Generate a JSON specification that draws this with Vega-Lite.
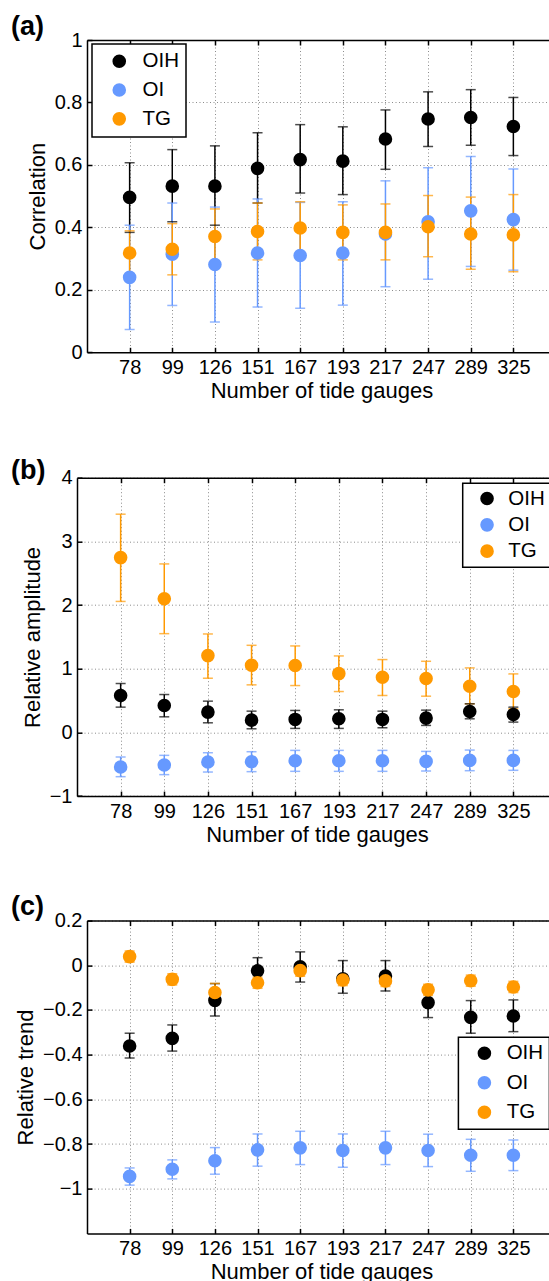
{
  "$schema": "https://vega.github.io/schema/vega-lite/v6.json",
  "padding": {"left": 11, "top": 13, "right": 0, "bottom": 0},
  "background": "white",
  "config": {
    "font": "Liberation Sans",
    "view": {"stroke": null},
    "axis": {
      "labelFont": "Liberation Sans", "titleFont": "Liberation Sans",
      "labelFontSize": 20, "titleFontSize": 22, "titleFontWeight": "normal",
      "labelColor": "black", "titleColor": "black",
      "domainColor": "black", "domainWidth": 1.5,
      "tickColor": "black", "tickWidth": 1.5, "tickSize": -5,
      "gridColor": "#8c8c8c", "gridDash": [1, 2.5], "gridWidth": 1,
      "labelFlush": false, "labelOverlap": false
    },
    "legend": {"strokeWidth": 1.5},
    "title": {"font": "Liberation Sans", "fontSize": 27, "fontWeight": "bold", "color": "black", "anchor": "start", "frame": "group", "baseline": "alphabetic"}
  },
  "datasets": {
    "a": [
      {"n": 78, "s": "OIH", "v": 0.496, "lo": 0.384, "hi": 0.607},
      {"n": 99, "s": "OIH", "v": 0.532, "lo": 0.418, "hi": 0.649},
      {"n": 126, "s": "OIH", "v": 0.532, "lo": 0.407, "hi": 0.661},
      {"n": 151, "s": "OIH", "v": 0.589, "lo": 0.478, "hi": 0.703},
      {"n": 167, "s": "OIH", "v": 0.617, "lo": 0.510, "hi": 0.729},
      {"n": 193, "s": "OIH", "v": 0.612, "lo": 0.505, "hi": 0.722},
      {"n": 217, "s": "OIH", "v": 0.683, "lo": 0.586, "hi": 0.776},
      {"n": 247, "s": "OIH", "v": 0.747, "lo": 0.659, "hi": 0.834},
      {"n": 289, "s": "OIH", "v": 0.752, "lo": 0.663, "hi": 0.841},
      {"n": 325, "s": "OIH", "v": 0.723, "lo": 0.630, "hi": 0.816},
      {"n": 78, "s": "OI", "v": 0.240, "lo": 0.073, "hi": 0.407},
      {"n": 99, "s": "OI", "v": 0.314, "lo": 0.150, "hi": 0.478},
      {"n": 126, "s": "OI", "v": 0.281, "lo": 0.097, "hi": 0.465},
      {"n": 151, "s": "OI", "v": 0.318, "lo": 0.145, "hi": 0.491},
      {"n": 167, "s": "OI", "v": 0.310, "lo": 0.141, "hi": 0.480},
      {"n": 193, "s": "OI", "v": 0.318, "lo": 0.151, "hi": 0.482},
      {"n": 217, "s": "OI", "v": 0.379, "lo": 0.210, "hi": 0.549},
      {"n": 247, "s": "OI", "v": 0.418, "lo": 0.234, "hi": 0.591},
      {"n": 289, "s": "OI", "v": 0.453, "lo": 0.275, "hi": 0.627},
      {"n": 325, "s": "OI", "v": 0.425, "lo": 0.263, "hi": 0.587},
      {"n": 78, "s": "TG", "v": 0.318, "lo": 0.250, "hi": 0.389},
      {"n": 99, "s": "TG", "v": 0.330, "lo": 0.248, "hi": 0.412},
      {"n": 126, "s": "TG", "v": 0.371, "lo": 0.283, "hi": 0.459},
      {"n": 151, "s": "TG", "v": 0.387, "lo": 0.296, "hi": 0.478},
      {"n": 167, "s": "TG", "v": 0.398, "lo": 0.314, "hi": 0.482},
      {"n": 193, "s": "TG", "v": 0.384, "lo": 0.296, "hi": 0.472},
      {"n": 217, "s": "TG", "v": 0.384, "lo": 0.296, "hi": 0.475},
      {"n": 247, "s": "TG", "v": 0.402, "lo": 0.306, "hi": 0.502},
      {"n": 289, "s": "TG", "v": 0.379, "lo": 0.266, "hi": 0.497},
      {"n": 325, "s": "TG", "v": 0.376, "lo": 0.258, "hi": 0.505}
    ],
    "b": [
      {"n": 78, "s": "OIH", "v": 0.580, "lo": 0.397, "hi": 0.768},
      {"n": 99, "s": "OIH", "v": 0.423, "lo": 0.245, "hi": 0.595},
      {"n": 126, "s": "OIH", "v": 0.319, "lo": 0.151, "hi": 0.491},
      {"n": 151, "s": "OIH", "v": 0.193, "lo": 0.057, "hi": 0.334},
      {"n": 167, "s": "OIH", "v": 0.204, "lo": 0.063, "hi": 0.345},
      {"n": 193, "s": "OIH", "v": 0.214, "lo": 0.063, "hi": 0.355},
      {"n": 217, "s": "OIH", "v": 0.204, "lo": 0.073, "hi": 0.334},
      {"n": 247, "s": "OIH", "v": 0.225, "lo": 0.110, "hi": 0.350},
      {"n": 289, "s": "OIH", "v": 0.329, "lo": 0.214, "hi": 0.449},
      {"n": 325, "s": "OIH", "v": 0.282, "lo": 0.162, "hi": 0.397},
      {"n": 78, "s": "OI", "v": -0.543, "lo": -0.695, "hi": -0.386},
      {"n": 99, "s": "OI", "v": -0.512, "lo": -0.663, "hi": -0.360},
      {"n": 126, "s": "OI", "v": -0.465, "lo": -0.622, "hi": -0.319},
      {"n": 151, "s": "OI", "v": -0.460, "lo": -0.616, "hi": -0.303},
      {"n": 167, "s": "OI", "v": -0.444, "lo": -0.611, "hi": -0.282},
      {"n": 193, "s": "OI", "v": -0.444, "lo": -0.611, "hi": -0.282},
      {"n": 217, "s": "OI", "v": -0.444, "lo": -0.611, "hi": -0.282},
      {"n": 247, "s": "OI", "v": -0.454, "lo": -0.606, "hi": -0.298},
      {"n": 289, "s": "OI", "v": -0.439, "lo": -0.601, "hi": -0.277},
      {"n": 325, "s": "OI", "v": -0.439, "lo": -0.595, "hi": -0.282},
      {"n": 78, "s": "TG", "v": 2.745, "lo": 2.057, "hi": 3.427},
      {"n": 99, "s": "TG", "v": 2.099, "lo": 1.551, "hi": 2.646},
      {"n": 126, "s": "TG", "v": 1.206, "lo": 0.851, "hi": 1.546},
      {"n": 151, "s": "TG", "v": 1.055, "lo": 0.747, "hi": 1.368},
      {"n": 167, "s": "TG", "v": 1.050, "lo": 0.736, "hi": 1.358},
      {"n": 193, "s": "TG", "v": 0.924, "lo": 0.642, "hi": 1.201},
      {"n": 217, "s": "TG", "v": 0.867, "lo": 0.580, "hi": 1.144},
      {"n": 247, "s": "TG", "v": 0.846, "lo": 0.569, "hi": 1.117},
      {"n": 289, "s": "TG", "v": 0.726, "lo": 0.449, "hi": 1.013},
      {"n": 325, "s": "TG", "v": 0.642, "lo": 0.371, "hi": 0.919}
    ],
    "c": [
      {"n": 78, "s": "OIH", "v": -0.361, "lo": -0.415, "hi": -0.304},
      {"n": 99, "s": "OIH", "v": -0.327, "lo": -0.384, "hi": -0.267},
      {"n": 126, "s": "OIH", "v": -0.157, "lo": -0.227, "hi": -0.082},
      {"n": 151, "s": "OIH", "v": -0.025, "lo": -0.090, "hi": 0.034},
      {"n": 167, "s": "OIH", "v": -0.007, "lo": -0.075, "hi": 0.060},
      {"n": 193, "s": "OIH", "v": -0.060, "lo": -0.125, "hi": 0.021},
      {"n": 217, "s": "OIH", "v": -0.048, "lo": -0.115, "hi": 0.021},
      {"n": 247, "s": "OIH", "v": -0.167, "lo": -0.234, "hi": -0.100},
      {"n": 289, "s": "OIH", "v": -0.233, "lo": -0.304, "hi": -0.158},
      {"n": 325, "s": "OIH", "v": -0.227, "lo": -0.297, "hi": -0.155},
      {"n": 78, "s": "OI", "v": -0.945, "lo": -0.984, "hi": -0.907},
      {"n": 99, "s": "OI", "v": -0.913, "lo": -0.956, "hi": -0.871},
      {"n": 126, "s": "OI", "v": -0.875, "lo": -0.935, "hi": -0.816},
      {"n": 151, "s": "OI", "v": -0.826, "lo": -0.899, "hi": -0.755},
      {"n": 167, "s": "OI", "v": -0.817, "lo": -0.892, "hi": -0.743},
      {"n": 193, "s": "OI", "v": -0.829, "lo": -0.904, "hi": -0.755},
      {"n": 217, "s": "OI", "v": -0.817, "lo": -0.892, "hi": -0.743},
      {"n": 247, "s": "OI", "v": -0.829, "lo": -0.901, "hi": -0.756},
      {"n": 289, "s": "OI", "v": -0.850, "lo": -0.922, "hi": -0.779},
      {"n": 325, "s": "OI", "v": -0.850, "lo": -0.919, "hi": -0.782},
      {"n": 78, "s": "TG", "v": 0.039, "lo": 0.014, "hi": 0.064},
      {"n": 99, "s": "TG", "v": -0.063, "lo": -0.088, "hi": -0.038},
      {"n": 126, "s": "TG", "v": -0.122, "lo": -0.162, "hi": -0.081},
      {"n": 151, "s": "TG", "v": -0.078, "lo": -0.103, "hi": -0.053},
      {"n": 167, "s": "TG", "v": -0.024, "lo": -0.049, "hi": 0.001},
      {"n": 193, "s": "TG", "v": -0.066, "lo": -0.091, "hi": -0.041},
      {"n": 217, "s": "TG", "v": -0.070, "lo": -0.095, "hi": -0.045},
      {"n": 247, "s": "TG", "v": -0.110, "lo": -0.135, "hi": -0.085},
      {"n": 289, "s": "TG", "v": -0.069, "lo": -0.094, "hi": -0.044},
      {"n": 325, "s": "TG", "v": -0.097, "lo": -0.122, "hi": -0.072}
    ]
  },
  "columns": 1,
  "spacing": 54.7,
  "bounds": "full",
  "resolve": {"scale": {"color": "independent", "fill": "independent", "x": "independent", "y": "independent"}, "legend": {"color": "independent", "fill": "independent"}},
  "concat": [
    {
      "title": {"text": "(a)", "dx": -76, "dy": 7, "offset": -4},
      "width": 469,
      "height": 312.3,
      "data": {"name": "a"},
      "resolve": {"axis": {"x": "independent"}},
      "layer": [
        {"mark": {"type": "rule", "strokeWidth": 1.5},
         "encoding": {
           "x": {"field": "n", "type": "ordinal", "sort": [78, 99, 126, 151, 167, 193, 217, 247, 289, 325],
                 "scale": {"type": "point", "padding": 1},
                 "axis": {"title": "Number of tide gauges", "labelAngle": 0, "grid": true, "labelPadding": 9.8, "titlePadding": 3}},
           "y": {"field": "lo", "type": "quantitative", "scale": {"domain": [0, 1], "nice": false, "zero": false},
                 "axis": {"title": "Correlation", "values": [0, 0.2, 0.4, 0.6, 0.8, 1], "format": "~g", "grid": true, "labelPadding": 10, "titlePadding": 5}},
           "y2": {"field": "hi"},
           "color": {"field": "s", "type": "nominal", "scale": {"domain": ["TG", "OI", "OIH"], "range": ["#FF9900", "#6699FF", "#000000"]}, "legend": null}}},
        {"mark": {"type": "tick", "size": 10, "thickness": 1.5},
         "encoding": {
           "x": {"field": "n", "type": "ordinal", "sort": [78, 99, 126, 151, 167, 193, 217, 247, 289, 325],
                 "axis": {"orient": "top", "labels": false, "title": null, "grid": false, "domain": true, "ticks": true}},
           "y": {"field": "lo", "type": "quantitative"},
           "color": {"field": "s", "type": "nominal", "legend": null}}},
        {"mark": {"type": "tick", "size": 10, "thickness": 1.5},
         "encoding": {
           "x": {"field": "n", "type": "ordinal", "sort": [78, 99, 126, 151, 167, 193, 217, 247, 289, 325], "axis": null},
           "y": {"field": "hi", "type": "quantitative"},
           "color": {"field": "s", "type": "nominal", "legend": null}}},
        {"mark": {"type": "point", "filled": true, "opacity": 1, "size": 185, "strokeWidth": 0},
         "encoding": {
           "x": {"field": "n", "type": "ordinal", "sort": [78, 99, 126, 151, 167, 193, 217, 247, 289, 325], "axis": null},
           "y": {"field": "v", "type": "quantitative"},
           "fill": {"field": "s", "type": "nominal",
                    "scale": {"domain": ["OIH", "OI", "TG"], "range": ["#000000", "#6699FF", "#FF9900"]},
                    "legend": {"orient": "none", "legendX": 5, "legendY": 4, "title": null,
                               "strokeColor": "black", "fillColor": "white", "padding": 7,
                               "symbolOffset": 10, "labelOffset": 13, "rowPadding": 7.8,
                               "labelFontSize": 20.5, "labelFont": "Liberation Sans", "labelColor": "black",
                               "symbolSize": 185, "symbolType": "circle", "symbolStrokeWidth": 0}}}}
      ]
    },
    {
      "columns": 1,
      "spacing": 46.9,
      "bounds": "full",
      "resolve": {"scale": {"color": "independent", "fill": "independent", "x": "independent", "y": "independent"}, "legend": {"color": "independent", "fill": "independent"}},
      "concat": [
        {
          "title": {"text": "(b)", "dx": -76, "dy": 9, "offset": -8.4},
          "width": 470,
          "height": 318.4,
          "data": {"name": "b"},
          "resolve": {"axis": {"x": "independent"}},
          "layer": [
            {"mark": {"type": "rule", "strokeWidth": 1.5},
             "encoding": {
               "x": {"field": "n", "type": "ordinal", "sort": [78, 99, 126, 151, 167, 193, 217, 247, 289, 325],
                     "scale": {"type": "point", "padding": 1, "range": [-10, 470]},
                     "axis": {"title": "Number of tide gauges", "labelAngle": 0, "grid": true, "labelPadding": 10.5, "titlePadding": 3}},
               "y": {"field": "lo", "type": "quantitative", "scale": {"domain": [-1, 4], "nice": false, "zero": false},
                     "axis": {"title": "Relative amplitude", "values": [-1, 0, 1, 2, 3, 4], "format": "~g", "grid": true, "labelPadding": 10, "titlePadding": 5, "offset": 10}},
               "y2": {"field": "hi"},
               "color": {"field": "s", "type": "nominal", "scale": {"domain": ["TG", "OI", "OIH"], "range": ["#FF9900", "#6699FF", "#000000"]}, "legend": null}}},
            {"mark": {"type": "tick", "size": 10, "thickness": 1.5},
             "encoding": {
               "x": {"field": "n", "type": "ordinal", "sort": [78, 99, 126, 151, 167, 193, 217, 247, 289, 325],
                     "axis": {"orient": "top", "labels": false, "title": null, "grid": false, "domain": true, "ticks": true}},
               "y": {"field": "lo", "type": "quantitative"},
               "color": {"field": "s", "type": "nominal", "legend": null}}},
            {"mark": {"type": "tick", "size": 10, "thickness": 1.5},
             "encoding": {
               "x": {"field": "n", "type": "ordinal", "sort": [78, 99, 126, 151, 167, 193, 217, 247, 289, 325], "axis": null},
               "y": {"field": "hi", "type": "quantitative"},
               "color": {"field": "s", "type": "nominal", "legend": null}}},
            {"mark": {"type": "point", "filled": true, "opacity": 1, "size": 185, "strokeWidth": 0},
             "encoding": {
               "x": {"field": "n", "type": "ordinal", "sort": [78, 99, 126, 151, 167, 193, 217, 247, 289, 325], "axis": null},
               "y": {"field": "v", "type": "quantitative"},
               "fill": {"field": "s", "type": "nominal",
                        "scale": {"domain": ["OIH", "OI", "TG"], "range": ["#000000", "#6699FF", "#FF9900"]},
                        "legend": {"orient": "none", "legendX": 375.7, "legendY": 5.5, "title": null,
                                   "strokeColor": "black", "fillColor": "white", "padding": 5.1,
                                   "symbolOffset": 9, "labelOffset": 11, "rowPadding": 5.3,
                                   "labelFontSize": 20.5, "labelFont": "Liberation Sans", "labelColor": "black",
                                   "symbolSize": 185, "symbolType": "circle", "symbolStrokeWidth": 0}}}}
          ]
        },
        {
          "title": {"text": "(c)", "dx": -76, "dy": 5, "offset": -5},
          "width": 469,
          "height": 312.8,
          "data": {"name": "c"},
          "resolve": {"axis": {"x": "independent"}},
          "layer": [
            {"mark": {"type": "rule", "strokeWidth": 1.5},
             "encoding": {
               "x": {"field": "n", "type": "ordinal", "sort": [78, 99, 126, 151, 167, 193, 217, 247, 289, 325],
                     "scale": {"type": "point", "padding": 1},
                     "axis": {"title": "Number of tide gauges", "labelAngle": 0, "grid": true, "labelPadding": 9.8, "titlePadding": 3}},
               "y": {"field": "lo", "type": "quantitative", "scale": {"domain": [-1.2, 0.2], "nice": false, "zero": false},
                     "axis": {"title": "Relative trend", "values": [-1, -0.8, -0.6, -0.4, -0.2, 0, 0.2], "format": "~g", "grid": true, "labelPadding": 10, "titlePadding": 5}},
               "y2": {"field": "hi"},
               "color": {"field": "s", "type": "nominal", "scale": {"domain": ["TG", "OI", "OIH"], "range": ["#FF9900", "#6699FF", "#000000"]}, "legend": null}}},
            {"mark": {"type": "tick", "size": 10, "thickness": 1.5},
             "encoding": {
               "x": {"field": "n", "type": "ordinal", "sort": [78, 99, 126, 151, 167, 193, 217, 247, 289, 325],
                     "axis": {"orient": "top", "labels": false, "title": null, "grid": false, "domain": true, "ticks": true}},
               "y": {"field": "lo", "type": "quantitative"},
               "color": {"field": "s", "type": "nominal", "legend": null}}},
            {"mark": {"type": "tick", "size": 10, "thickness": 1.5},
             "encoding": {
               "x": {"field": "n", "type": "ordinal", "sort": [78, 99, 126, 151, 167, 193, 217, 247, 289, 325], "axis": null},
               "y": {"field": "hi", "type": "quantitative"},
               "color": {"field": "s", "type": "nominal", "legend": null}}},
            {"mark": {"type": "point", "filled": true, "opacity": 1, "size": 185, "strokeWidth": 0},
             "encoding": {
               "x": {"field": "n", "type": "ordinal", "sort": [78, 99, 126, 151, 167, 193, 217, 247, 289, 325], "axis": null},
               "y": {"field": "v", "type": "quantitative"},
               "fill": {"field": "s", "type": "nominal",
                        "scale": {"domain": ["OIH", "OI", "TG"], "range": ["#000000", "#6699FF", "#FF9900"]},
                        "legend": {"orient": "none", "legendX": 371.4, "legendY": 116.6, "title": null,
                                   "strokeColor": "black", "fillColor": "white", "padding": 5.75,
                                   "symbolOffset": 10, "labelOffset": 12, "rowPadding": 8.5,
                                   "labelFontSize": 20.5, "labelFont": "Liberation Sans", "labelColor": "black",
                                   "symbolSize": 185, "symbolType": "circle", "symbolStrokeWidth": 0}}}}
          ]
        }
      ]
    }
  ]
}
